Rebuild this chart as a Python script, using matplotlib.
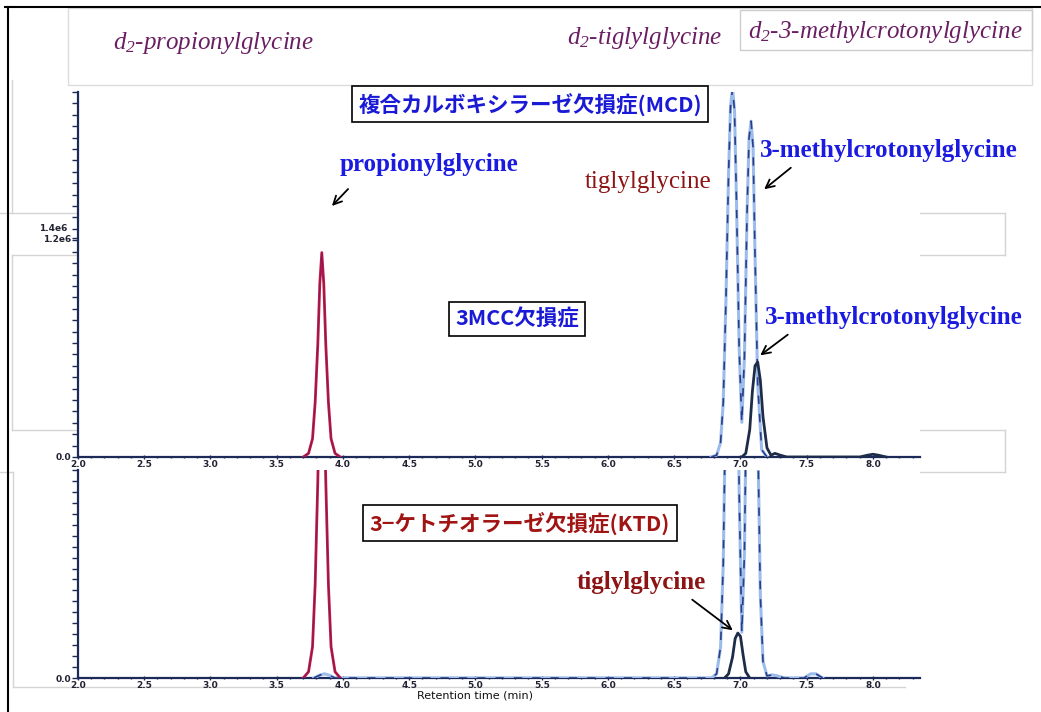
import matplotlib
matplotlib.use('Agg')
import matplotlib.pyplot as plt
from matplotlib.lines import Line2D
from matplotlib.patches import Rectangle, FancyArrowPatch
from matplotlib.ticker import MultipleLocator, FixedLocator

plt.rcParams['font.family'] = ['Noto Sans CJK JP', 'DejaVu Sans']
plt.rcParams['mathtext.fontset'] = 'custom'
plt.rcParams['mathtext.it'] = 'Liberation Serif:italic'
plt.rcParams['mathtext.rm'] = 'Liberation Serif:italic'

# ---- data (retention time in min, intensity) ----
x_ticks = [2.0, 2.5, 3.0, 3.5, 4.0, 4.5, 5.0, 5.5, 6.0, 6.5, 7.0, 7.5, 8.0]

# upper chromatogram (counts)
top_red_t = [3.70, 3.74, 3.77, 3.79, 3.81, 3.825, 3.84, 3.855, 3.87, 3.89, 3.91, 3.94, 3.98]
top_red_i = [0, 0.02e6, 0.10e6, 0.30e6, 0.62e6, 0.95e6, 1.12e6, 0.95e6, 0.62e6, 0.30e6, 0.10e6, 0.02e6, 0]

top_blue_t = [6.78, 6.82, 6.85, 6.87, 6.89, 6.91, 6.925, 6.94, 6.955, 6.97, 6.99, 7.01,
              7.03, 7.05, 7.065, 7.08, 7.095, 7.11, 7.13, 7.16, 7.20]
top_blue_i = [0, 0.01e6, 0.08e6, 0.30e6, 0.85e6, 1.55e6, 1.92e6, 2.02e6, 1.90e6, 1.40e6, 0.60e6, 0.19e6,
              0.55e6, 1.35e6, 1.75e6, 1.84e6, 1.70e6, 1.10e6, 0.40e6, 0.04e6, 0]

top_dark_t = [7.01, 7.04, 7.07, 7.09, 7.11, 7.13, 7.15, 7.17, 7.20, 7.23, 7.26, 7.30, 7.35,
              7.90, 7.96, 8.00, 8.04, 8.10]
top_dark_i = [0, 0.02e6, 0.15e6, 0.36e6, 0.50e6, 0.52e6, 0.42e6, 0.22e6, 0.05e6, 0.01e6, 0.02e6, 0.01e6, 0,
              0, 0.01e6, 0.015e6, 0.01e6, 0]

# lower chromatogram (relative)
bot_red_t = [3.70, 3.74, 3.77, 3.79, 3.81, 3.825, 3.84, 3.855, 3.87, 3.89, 3.91, 3.94, 3.98]
bot_red_i = [0, 0.03, 0.15, 0.45, 0.95, 1.45, 1.70, 1.45, 0.95, 0.45, 0.15, 0.03, 0]

bot_blue_t = [3.78, 3.83, 3.86, 3.89, 3.94,
              6.78, 6.82, 6.85, 6.87, 6.89, 6.91, 6.94, 6.97, 6.99, 7.01, 7.03,
              7.05, 7.07, 7.09, 7.11, 7.13, 7.15, 7.17, 7.20, 7.24, 7.28, 7.33,
              7.48, 7.53, 7.57, 7.62]
bot_blue_i = [0, 0.015, 0.02, 0.015, 0,
              0, 0.02, 0.15, 0.55, 1.40, 2.50, 3.00, 2.20, 0.90, 0.22, 0.60,
              1.60, 2.40, 2.70, 2.20, 1.20, 0.40, 0.08, 0.01, 0.015, 0.01, 0,
              0, 0.02, 0.02, 0]

bot_dark_t = [6.88, 6.91, 6.94, 6.96, 6.98, 7.00, 7.02, 7.04, 7.07]
bot_dark_i = [0, 0.02, 0.10, 0.19, 0.216, 0.20, 0.11, 0.03, 0]

W, H = 1041, 712


def fx(x):
    return x / W


def fy(y):
    return 1 - y / H


fig = plt.figure(figsize=(W / 100, H / 100), dpi=100)
fig.patch.set_facecolor('white')

axis_col = '#1c2a5a'


def style_axis(ax, ymax, yticks, ylabels, n_minor):
    ax.set_xlim(2.0, 8.355)
    ax.set_ylim(0, ymax)
    for s in ['top', 'right']:
        ax.spines[s].set_visible(False)
    for s in ['left', 'bottom']:
        ax.spines[s].set_color(axis_col)
        ax.spines[s].set_linewidth(1.6)
    ax.xaxis.set_major_locator(FixedLocator(x_ticks))
    ax.xaxis.set_minor_locator(MultipleLocator(0.1))
    ax.set_xticklabels(['%.1f' % t for t in x_ticks])
    ax.yaxis.set_major_locator(FixedLocator(yticks))
    ax.set_yticklabels(ylabels)
    ax.yaxis.set_minor_locator(MultipleLocator(ymax / n_minor))
    ax.tick_params(axis='x', which='major', direction='inout', length=3, width=1,
                   color=axis_col, labelsize=6.5, pad=0.5)
    ax.tick_params(axis='x', which='minor', direction='inout', length=2, width=1, color=axis_col)
    ax.tick_params(axis='y', which='major', direction='out', length=4, width=1,
                   color=axis_col, labelsize=6.5, pad=1)
    ax.tick_params(axis='y', which='minor', direction='out', length=4, width=1, color=axis_col)
    for lab in ax.get_xticklabels() + ax.get_yticklabels():
        lab.set_fontweight('bold')
        lab.set_color('#222233')
        lab.set_family('DejaVu Sans')


def dashed_trace(ax, t, i):
    ax.plot(t, i, color='#9cbcec', lw=2.2, zorder=3)
    ax.plot(t, i, color='#2b3f88', lw=1.2, dashes=(5, 6), zorder=4)


# upper panel
ax1 = fig.add_axes([fx(78), fy(457), fx(920) - fx(78), fy(92) - fy(457)])
style_axis(ax1, 2.0e6, [0, 1.2e6], ['0.0', '1.2e6'], 32)
ax1.plot(top_red_t, top_red_i, color='#c4183c', lw=2.0, zorder=5)
ax1.plot(top_red_t, top_red_i, color='#7a1a6a', lw=0.6, zorder=6)
dashed_trace(ax1, top_blue_t, top_blue_i)
ax1.plot(top_dark_t, top_dark_i, color='#1d2c48', lw=2.0, zorder=5)
# second, smudged scale label of the overlaid scan
ax1.text(-0.012, 1.25e6, '1.4e6', transform=ax1.get_yaxis_transform(), ha='right', va='center',
         fontsize=6.5, fontweight='bold', color='#222233', family='DejaVu Sans')

# lower panel
ax2 = fig.add_axes([fx(78), fy(678), fx(920) - fx(78), fy(470) - fy(678)])
style_axis(ax2, 1.0, [0], ['0.0'], 19)
ax2.plot(bot_red_t, bot_red_i, color='#c4183c', lw=2.0, zorder=5)
ax2.plot(bot_red_t, bot_red_i, color='#7a1a6a', lw=0.6, zorder=6)
dashed_trace(ax2, bot_blue_t, bot_blue_i)
ax2.plot(bot_dark_t, bot_dark_i, color='#1d2c48', lw=2.0, zorder=5)

# ---- frame and faint boxes from the slide ----
fig.add_artist(Line2D([fx(5), 1], [fy(7), fy(7)], color='black', lw=1.5))
fig.add_artist(Line2D([fx(8), fx(8)], [fy(7), 0], color='black', lw=1.5))

gray_segments = [
    ((12, 80), (12, 213)), ((0, 213), (80, 213)),
    ((920, 213), (1005, 213)), ((1005, 213), (1005, 255)), ((920, 255), (1005, 255)),
    ((12, 255), (80, 255)), ((12, 255), (12, 430)), ((12, 430), (80, 430)),
    ((920, 430), (1005, 430)), ((1005, 430), (1005, 472)), ((920, 472), (1005, 472)),
    ((0, 472), (13, 472)), ((13, 472), (13, 687)), ((13, 687), (905, 687)),
]
for (x0, y0), (x1, y1) in gray_segments:
    fig.add_artist(Line2D([fx(x0), fx(x1)], [fy(y0), fy(y1)], color='#d4d4d4', lw=1, zorder=-1))

fig.add_artist(Rectangle((fx(68), fy(85)), (1032 - 68) / W, 77 / H, fill=False,
                         edgecolor='#dcdcdc', lw=1, transform=fig.transFigure))
fig.add_artist(Rectangle((fx(740), fy(50)), (1032 - 740) / W, 40 / H, fill=False,
                         edgecolor='#cccccc', lw=1, transform=fig.transFigure))

# ---- header labels ----
purple = '#6a1f63'
hdr = dict(family='Liberation Serif', style='italic', fontsize=18, color=purple, va='center')
fig.text(fx(113), fy(43), r'$d_2$-propionylglycine', ha='left', **hdr)
fig.text(fx(567), fy(38), r'$d_2$-tiglylglycine', ha='left', **hdr)
fig.text(fx(748), fy(32), r'$d_2$-3-methylcrotonylglycine', ha='left', **hdr)

# ---- boxed disease names ----
box_kw = dict(boxstyle='square,pad=0.3', facecolor='white', edgecolor='black', lw=1.2)
fig.text(fx(530), fy(104), '複合カルボキシラーゼ欠損症(MCD)', ha='center', va='center',
         fontsize=15.5, fontweight='bold', color='#1a1ad6', bbox=box_kw)
fig.text(fx(517), fy(319), '3MCC欠損症', ha='center', va='center',
         fontsize=15.5, fontweight='bold', color='#1a1ad6', bbox=box_kw)
fig.text(fx(520), fy(523), '3−ケトチオラーゼ欠損症(KTD)', ha='center', va='center',
         fontsize=15.5, fontweight='bold', color='#a01414', bbox=box_kw)

# ---- peak labels ----
blue = '#1a1ae0'
darkred = '#8c1414'
lbl = dict(family='Liberation Serif', fontsize=18, va='center', ha='left')
fig.text(fx(340), fy(165), 'propionylglycine', color=blue, fontweight='bold', **lbl)
fig.text(fx(585), fy(182), 'tiglylglycine', color=darkred, **lbl)
fig.text(fx(760), fy(150), '3-methylcrotonylglycine', color=blue, fontweight='bold', **lbl)
fig.text(fx(765), fy(318), '3-methylcrotonylglycine', color=blue, fontweight='bold', **lbl)
fig.text(fx(577), fy(583), 'tiglylglycine', color=darkred, fontweight='bold', **lbl)

arrows = [((350, 187), (330, 208)), ((793, 166), (762, 191)),
          ((790, 333), (758, 357)), ((690, 598), (735, 632))]
for (x0, y0), (x1, y1) in arrows:
    fig.add_artist(FancyArrowPatch(
        (fx(x0), fy(y0)), (fx(x1), fy(y1)), transform=fig.transFigure,
        arrowstyle='->,head_length=6,head_width=3', color='black', lw=1.3, mutation_scale=1))

fig.text(fx(417), fy(695), 'Retention time (min)', ha='left', va='center', fontsize=8,
         family='DejaVu Sans', color='#111111')

fig.savefig('out.png', dpi=100)
